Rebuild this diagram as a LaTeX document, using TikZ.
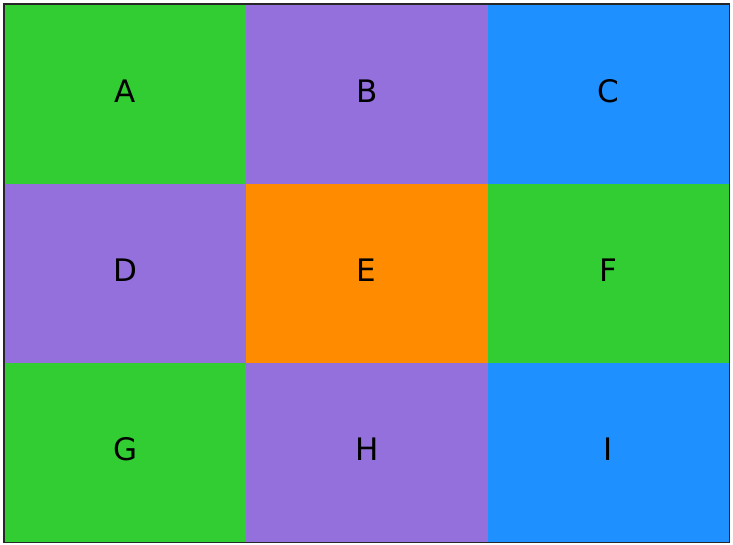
\documentclass[tikz,border=0pt]{standalone}
\usepackage{fontspec}
\setmainfont{DejaVu Sans}
\definecolor{cgreen}{HTML}{32CD32}
\definecolor{cpurple}{HTML}{9370DB}
\definecolor{cblue}{HTML}{1E90FF}
\definecolor{corange}{HTML}{FF8C00}
\begin{document}
\begin{tikzpicture}[x=1pt,y=1pt,
  cell/.style={rectangle,draw=none,inner sep=0pt,minimum width=241.67pt,minimum height=179.33pt,anchor=north west},
  lbl/.style={font=\fontsize{31}{36}\selectfont,inner sep=0pt,yshift=3pt}]
\useasboundingbox[fill=white] (0,0) rectangle (733,545);
\node[cell,fill=cgreen]  (A) at (4,541) {};
\node[cell,fill=cpurple] (B) at (245.67,541) {};
\node[cell,fill=cblue]   (C) at (487.33,541) {};
\node[cell,fill=cpurple] (D) at (4,361.67) {};
\node[cell,fill=corange] (E) at (245.67,361.67) {};
\node[cell,fill=cgreen]  (F) at (487.33,361.67) {};
\node[cell,fill=cgreen]  (G) at (4,182.33) {};
\node[cell,fill=cpurple] (H) at (245.67,182.33) {};
\node[cell,fill=cblue]   (I) at (487.33,182.33) {};
\foreach \n in {A,B,C,D,E,F,G,H,I} \node[lbl] (t\n) at (\n.center) {\n};
\draw[line width=1.5pt,black!85] (A.north west) rectangle (I.south east);
\end{tikzpicture}
\end{document}
